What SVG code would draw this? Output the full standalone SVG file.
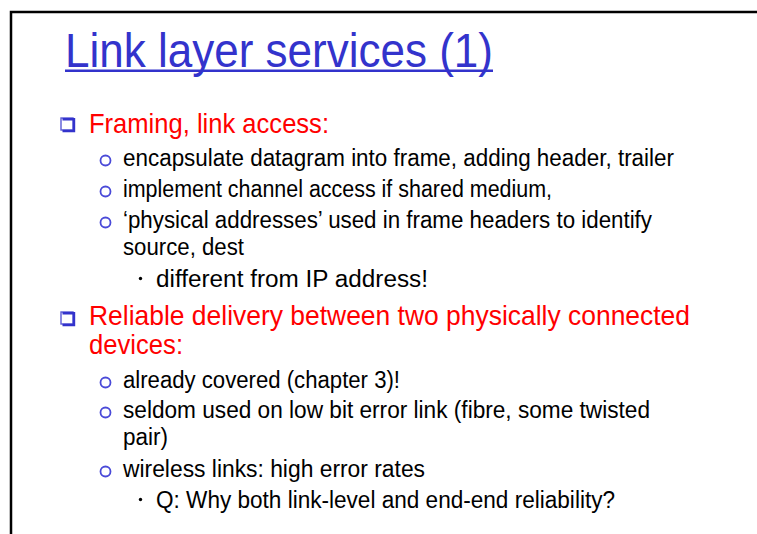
<svg xmlns="http://www.w3.org/2000/svg" width="757" height="534" viewBox="0 0 757 534">
  <style>
    text { font-family: "Liberation Sans", Arial, sans-serif; }
    .title { font-size: 48px; fill: #3333cc; }
    .lvl1 { font-size: 28px; fill: #ff0000; }
    .lvl2 { font-size: 23px; fill: #000000; }
    .sq { fill: #ffffff; stroke: #5a5ad6; stroke-width: 1.4; }
    .sqshade { fill: none; stroke: #3333cc; stroke-width: 2.4; }
    .ring { fill: none; stroke: #4a4ad8; stroke-width: 1.8; }
    .dot { fill: #000000; }
  </style>
  <defs>
    <g id="square">
      <rect class="sq" x="0" y="0" width="12" height="12"/>
      <path class="sqshade" d="M1.5 1.2 H13 V13 H1.5"/>
    </g>
    <circle id="ring" class="ring" cx="0" cy="0" r="5"/>
  </defs>

  <rect width="757" height="534" fill="#ffffff"/>

  <!-- slide frame: top and left edges -->
  <path d="M11 534 V12 H757" fill="none" stroke="#000000" stroke-width="2.5"/>

  <!-- title -->
  <g id="title">
    <text class="title" x="65" y="67" textLength="428" lengthAdjust="spacingAndGlyphs">Link layer services (1)</text>
    <rect x="65" y="69.5" width="428" height="2.5" fill="#3333cc"/>
  </g>

  <!-- first topic -->
  <g id="framing">
    <use href="#square" x="61" y="118"/>
    <text class="lvl1" x="89" y="133" textLength="240" lengthAdjust="spacingAndGlyphs">Framing, link access:</text>

    <use href="#ring" x="105.5" y="160.5"/>
    <text class="lvl2" x="123" y="166" textLength="551" lengthAdjust="spacingAndGlyphs">encapsulate datagram into frame, adding header, trailer</text>

    <use href="#ring" x="105.5" y="191.5"/>
    <text class="lvl2" x="123" y="197" textLength="429" lengthAdjust="spacingAndGlyphs">implement channel access if shared medium,</text>

    <use href="#ring" x="105.5" y="222.5"/>
    <text class="lvl2" x="123" y="228" textLength="529" lengthAdjust="spacingAndGlyphs">‘physical addresses’ used in frame headers to identify</text>
    <text class="lvl2" x="123" y="255" textLength="121" lengthAdjust="spacingAndGlyphs">source, dest</text>

    <circle class="dot" cx="140.5" cy="278.5" r="1.7"/>
    <text class="lvl2" x="156" y="287" textLength="272" lengthAdjust="spacingAndGlyphs">different from IP address!</text>
  </g>

  <!-- second topic -->
  <g id="reliable">
    <use href="#square" x="61" y="312"/>
    <text class="lvl1" x="89" y="325" textLength="601" lengthAdjust="spacingAndGlyphs">Reliable delivery between two physically connected</text>
    <text class="lvl1" x="89" y="354" textLength="94" lengthAdjust="spacingAndGlyphs">devices:</text>

    <use href="#ring" x="105.5" y="382.5"/>
    <text class="lvl2" x="123" y="388" textLength="277" lengthAdjust="spacingAndGlyphs">already covered (chapter 3)!</text>

    <use href="#ring" x="105.5" y="412.5"/>
    <text class="lvl2" x="123" y="418" textLength="527" lengthAdjust="spacingAndGlyphs">seldom used on low bit error link (fibre, some twisted</text>
    <text class="lvl2" x="123" y="445" textLength="45" lengthAdjust="spacingAndGlyphs">pair)</text>

    <use href="#ring" x="105.5" y="471.5"/>
    <text class="lvl2" x="123" y="477" textLength="302" lengthAdjust="spacingAndGlyphs">wireless links: high error rates</text>

    <circle class="dot" cx="140.5" cy="499.5" r="1.7"/>
    <text class="lvl2" x="156" y="508" textLength="459" lengthAdjust="spacingAndGlyphs">Q: Why both link-level and end-end reliability?</text>
  </g>
</svg>
